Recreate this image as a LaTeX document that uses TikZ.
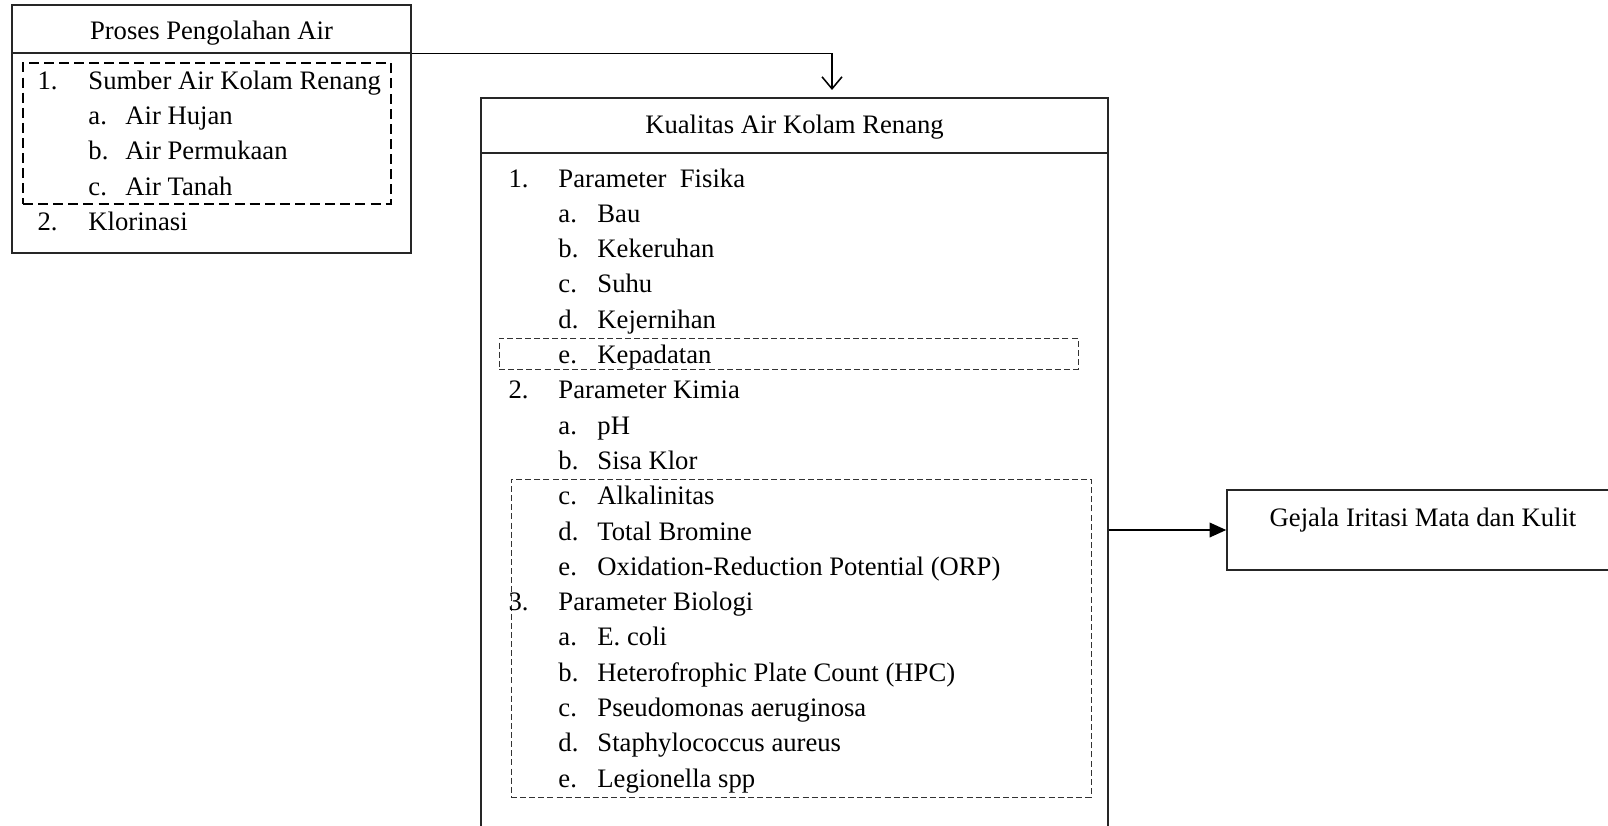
\documentclass[tikz,border=0pt]{standalone}
\usepackage{fontspec}
\setmainfont{Liberation Serif}
\usetikzlibrary{positioning,fit,arrows.meta}
\tikzset{
  box/.style={draw=black!85,line width=0.65pt,inner sep=0pt},
  grp/.style={draw=black!80,line width=0.45pt,dash pattern=on 2.7pt off 1.4pt,inner sep=0pt},
  grpthick/.style={draw=black,line width=1pt,dash pattern=on 4.5pt off 2.3pt,inner sep=0pt},
  itemtxt/.style={anchor=base west,inner sep=0pt},
  numlab/.style={anchor=base east,inner sep=0pt},
  title/.style={anchor=base,inner sep=0pt},
  flow/.style={draw=black,line width=0.7pt},
}
\begin{document}
\begin{tikzpicture}[x=0.45pt,y=-0.45pt,font=\fontsize{12pt}{14pt}\selectfont]
\useasboundingbox (0,0) rectangle (1608,825);
\clip (0,0) rectangle (1608,825);
% left box
\node[box,fit={(12,5) (411,53)}] (prosHead) {};
\node[box,fit={(12,53) (411,253)}] (prosBody) {};
\node[title] (prosTitle) at (211.5,40) {Proses Pengolahan Air};
\node[grpthick,fit={(23,63) (391,204)}] (sumberGrp) {};
\node[numlab] (pa-lab-1) at (58,90) {1.};
\node[itemtxt] (pa-txt-1) at (88,90) {Sumber Air Kolam Renang};
\node[itemtxt] (pa-lab-2) at (88,125) {a.};
\node[itemtxt] (pa-txt-2) at (125,125) {Air Hujan};
\node[itemtxt] (pa-lab-3) at (88,160) {b.};
\node[itemtxt] (pa-txt-3) at (125,160) {Air Permukaan};
\node[itemtxt] (pa-lab-4) at (88,195) {c.};
\node[itemtxt] (pa-txt-4) at (125,195) {Air Tanah};
\node[numlab] (pa-lab-5) at (58,230) {2.};
\node[itemtxt] (pa-txt-5) at (88,230) {Klorinasi};
% middle box
\node[box,fit={(481,98) (1108,153)}] (kualHead) {};
\node[box,fit={(481,153) (1108,845)}] (kualBody) {};
\node[title] (kualTitle) at (794.5,133) {Kualitas Air Kolam Renang};
\node[grp,fit={(499,338) (1078,369)}] (padatGrp) {};
\node[grp,fit={(511,479) (1091,797)}] (kimiaGrp) {};
\foreach \i/\lvl/\lab/\txt in {1/0/1./Parameter\ \ Fisika,2/1/a./Bau,3/1/b./Kekeruhan,
  4/1/c./Suhu,5/1/d./Kejernihan,6/1/e./Kepadatan,7/0/2./Parameter Kimia,8/1/a./pH,
  9/1/b./Sisa Klor,10/1/c./Alkalinitas,11/1/d./Total Bromine,
  12/1/e./Oxidation-Reduction Potential (ORP),13/0/3./Parameter Biologi,14/1/a./E. coli,
  15/1/b./Heterofrophic Plate Count (HPC),16/1/c./Pseudomonas aeruginosa,
  17/1/d./Staphylococcus aureus,18/1/e./Legionella spp}{
  \pgfmathsetmacro{\yy}{187+(\i-1)*35.3}
  \ifnum\lvl=0
    \node[numlab] (kq-lab-\i) at (529,\yy) {\lab};
    \node[itemtxt] (kq-txt-\i) at (558,\yy) {\txt};
  \else
    \node[itemtxt] (kq-lab-\i) at (558,\yy) {\lab};
    \node[itemtxt] (kq-txt-\i) at (597,\yy) {\txt};
  \fi
}
% right box
\node[box,fit={(1227,490) (1630,570)}] (gejala) {};
\node[title] (gejalaTitle) at (1423,526) {Gejala Iritasi Mata dan Kulit};
% arrows
\coordinate (tipA) at (832,90);
\draw[flow,-{Straight Barb[length=5.4pt,width=9pt]}] (prosHead.south east) -| (tipA);
\draw[flow,line width=1pt,-{Triangle[length=7.5pt,width=6.5pt]}] (gejala.west -| kualBody.east) -- (gejala.west);
\end{tikzpicture}
\end{document}
